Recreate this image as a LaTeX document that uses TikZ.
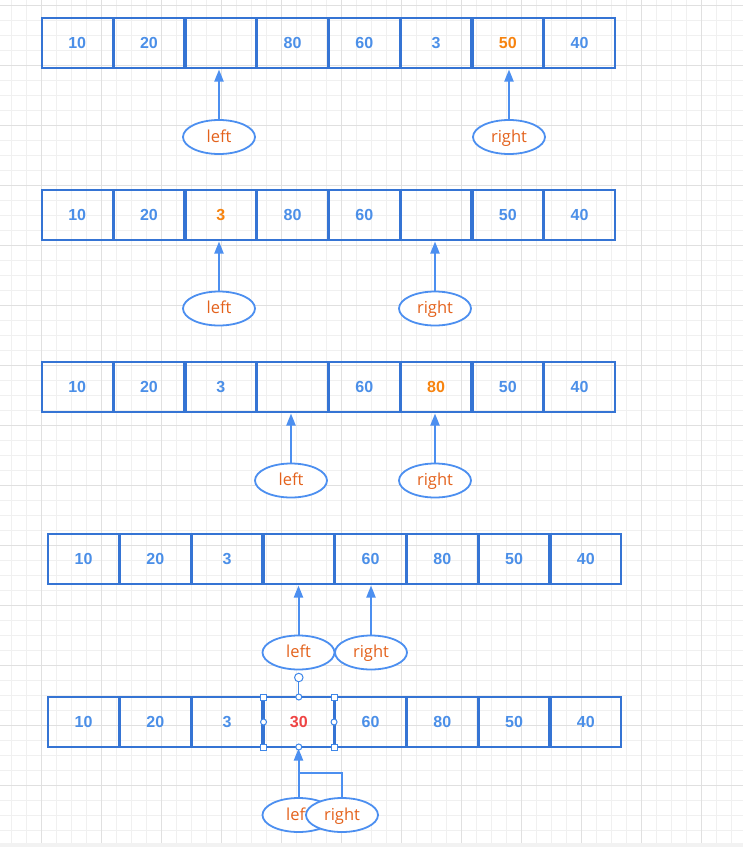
\documentclass[tikz,border=0pt]{standalone}
\usepackage{fontspec}
\usetikzlibrary{shapes.geometric,arrows.meta}
\newfontfamily\numf{Liberation Sans}
\newfontfamily\labf{Open Sans}
\definecolor{boxc}{HTML}{3574D4}
\definecolor{numc}{HTML}{4B8FE8}
\definecolor{hlc}{HTML}{F7830E}
\definecolor{labc}{HTML}{E4621C}
\definecolor{redc}{HTML}{EF4444}
\definecolor{ellc}{HTML}{4C8FF0}
\definecolor{gridminor}{HTML}{F0F0F0}
\definecolor{gridmajor}{HTML}{E0E0E0}
\definecolor{handc}{HTML}{3F87E8}
\definecolor{stripc}{HTML}{F2F2F2}
\newcommand\cellrow[4]{%
  \foreach \v/\s [count=\k] in {#4} {
    \node[cell,\s] (#1c\k) at ({#2+71.75*(\k-1)+35.25},#3) {\v};
  }}
\begin{document}
\begin{tikzpicture}[x=1pt,y=-1pt,
  cell/.style={draw=boxc, line width=2pt, minimum width=70.5pt, minimum height=50pt,
    inner sep=0pt, outer sep=0pt, font=\numf\bfseries\fontsize{16}{18}\selectfont, text=numc},
  n/.style={}, hl/.style={text=hlc}, hot/.style={text=redc},
  ptr/.style={draw=ellc, ellipse, line width=1.8pt, fill=white, minimum width=72pt,
    minimum height=34pt, inner sep=0pt, outer sep=0pt, font=\labf\fontsize{16.5}{18}\selectfont,
    text=labc, text height=13pt, text depth=2.5pt},
  link/.style={draw=ellc, line width=2pt, -{Triangle[length=12pt,width=9pt]}, shorten >=1.5pt},
  elbow/.style={draw=ellc, line width=2pt},
  minor/.style={draw=gridminor, line width=1pt},
  major/.style={draw=gridmajor, line width=1pt},
  sqh/.style={draw=handc, fill=white, line width=1pt, minimum size=6pt, inner sep=0pt, rectangle},
  cih/.style={draw=handc, fill=white, line width=1pt, minimum size=6pt, inner sep=0pt, circle},
  roth/.style={cih, minimum size=8.5pt}
]
\useasboundingbox (0,0) rectangle (743,847);
\fill[white] (0,0) rectangle (743,847);
% grid
\foreach \i in {0,...,48} \draw[minor] (11.7+15*\i,0) -- (11.7+15*\i,843);
\foreach \i in {0,...,55} \draw[minor] (0,5+15*\i) -- (743,5+15*\i);
\foreach \i in {0,...,11} \draw[major] (41.7+60*\i,0) -- (41.7+60*\i,843);
\foreach \i in {0,...,13} \draw[major] (0,5+60*\i) -- (743,5+60*\i);
\fill[stripc] (0,843) rectangle (743,847);
% rows
\cellrow{a}{42}{43}{10/n,20/n,/n,80/n,60/n,3/n,50/hl,40/n}
\cellrow{b}{42}{215}{10/n,20/n,3/hl,80/n,60/n,/n,50/n,40/n}
\cellrow{c}{42}{387}{10/n,20/n,3/n,/n,60/n,80/hl,50/n,40/n}
\cellrow{d}{48.3}{559}{10/n,20/n,3/n,/n,60/n,80/n,50/n,40/n}
\cellrow{e}{48.3}{722}{10/n,20/n,3/n,30/hot,60/n,80/n,50/n,40/n}
% pointers row 1
\node[ptr] (aL) at (219,137) {left};
\node[ptr] (aR) at (509,137) {right};
\draw[link] (aL.north) -- (aL.north |- ac3.south);
\draw[link] (aR.north) -- (aR.north |- ac7.south);
% row 2
\node[ptr] (bL) at (219,308.5) {left};
\node[ptr] (bR) at (435,308.5) {right};
\draw[link] (bL.north) -- (bL.north |- bc3.south);
\draw[link] (bR.north) -- (bR.north |- bc6.south);
% row 3
\node[ptr] (cL) at (291,480.5) {left};
\node[ptr] (cR) at (435,480.5) {right};
\draw[link] (cL.north) -- (cL.north |- cc4.south);
\draw[link] (cR.north) -- (cR.north |- cc6.south);
% row 4
\node[ptr] (dL) at (298.5,652.5) {left};
\node[ptr] (dR) at (371,652.5) {right};
\draw[link] (dL.north) -- (dL.north |- dc4.south);
\draw[link] (dR.north) -- (dR.north |- dc5.south);
% row 5
\node[ptr] (eL) at (298.5,815) {left};
\node[ptr] (eR) at (342,815) {right};
\coordinate (ej) at (298.5,773);
\draw[link] (eL.north) -- (eL.north |- ec4.south);
\draw[elbow] (eR.north) |- (ej);
% selection handles
\node[roth] (rot) at ([yshift=19.5pt]ec4.north) {};
\draw[draw=handc, line width=1pt] (rot) -- (ec4.north);
\node[sqh] (h1) at (ec4.north west) {};
\node[sqh] (h2) at (ec4.north east) {};
\node[sqh] (h3) at (ec4.south west) {};
\node[sqh] (h4) at (ec4.south east) {};
\node[cih] (h5) at (ec4.north) {};
\node[cih] (h6) at (ec4.south) {};
\node[cih] (h7) at (ec4.west) {};
\node[cih] (h8) at (ec4.east) {};
\end{tikzpicture}
\end{document}
